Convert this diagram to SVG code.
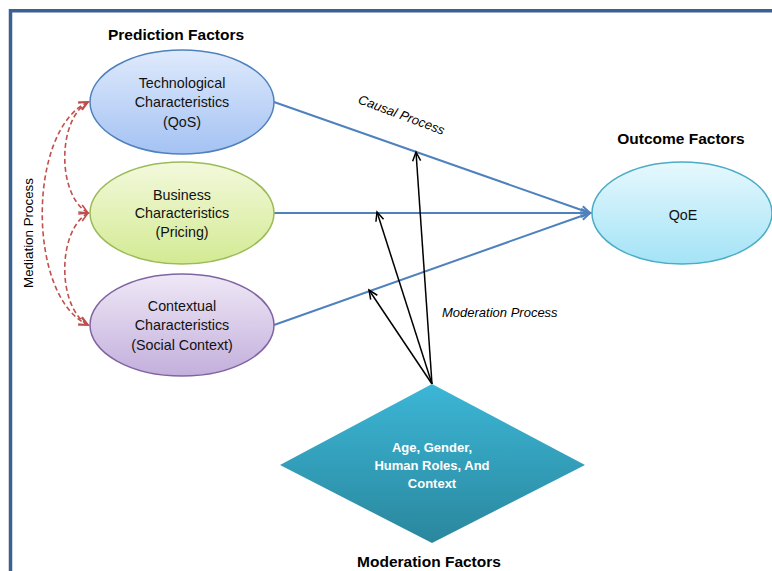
<svg xmlns="http://www.w3.org/2000/svg" width="772" height="571" viewBox="0 0 772 571">
<style>
.title{font-family:"Liberation Sans",Arial,sans-serif;font-weight:bold;font-size:15.5px;fill:#000;text-anchor:middle}
.node{font-family:"Liberation Sans",Arial,sans-serif;font-size:14.3px;fill:#111;text-anchor:middle}
.dia{font-family:"Liberation Sans",Arial,sans-serif;font-weight:bold;font-size:13px;fill:#fff;text-anchor:middle}
.lbl{font-family:"Liberation Sans",Arial,sans-serif;font-style:italic;font-size:13px;fill:#000}
.causal{stroke:#4f81bd;stroke-width:2;fill:none;marker-end:url(#blueArrow)}
.mod{stroke:#000;stroke-width:1.5;fill:none;marker-end:url(#blackArrow)}
.med{stroke:#c0504d;stroke-width:1.6;fill:none;stroke-dasharray:5 3;marker-start:url(#redArrow);marker-end:url(#redArrow)}
</style>
<defs>
<linearGradient id="gTech" x1="0" y1="0" x2="0" y2="1"><stop offset="0" stop-color="#dfeafc"/><stop offset="1" stop-color="#a4c2f3"/></linearGradient>
<linearGradient id="gBus" x1="0" y1="0" x2="0" y2="1"><stop offset="0" stop-color="#f3f9dc"/><stop offset="1" stop-color="#d3ea93"/></linearGradient>
<linearGradient id="gCtx" x1="0" y1="0" x2="0" y2="1"><stop offset="0" stop-color="#efe8f6"/><stop offset="1" stop-color="#c3afdc"/></linearGradient>
<linearGradient id="gQoe" x1="0" y1="0" x2="0" y2="1"><stop offset="0" stop-color="#e6f8fd"/><stop offset="1" stop-color="#a3e3f6"/></linearGradient>
<linearGradient id="gDia" x1="0" y1="0" x2="0" y2="1"><stop offset="0" stop-color="#3cb6d6"/><stop offset="1" stop-color="#2a879d"/></linearGradient>
<marker id="blueArrow" markerWidth="12" markerHeight="12" refX="10" refY="5" orient="auto" markerUnits="userSpaceOnUse"><path d="M1,1 L10,5 L1,9" fill="none" stroke="#4f81bd" stroke-width="2"/></marker>
<marker id="blackArrow" markerWidth="12" markerHeight="12" refX="10" refY="5" orient="auto" markerUnits="userSpaceOnUse"><path d="M1,1 L10,5 L1,9" fill="none" stroke="#000" stroke-width="1.5"/></marker>
<marker id="redArrow" markerWidth="12" markerHeight="12" refX="10" refY="5" orient="auto-start-reverse" markerUnits="userSpaceOnUse"><path d="M1,1 L10,5 L1,9" fill="none" stroke="#c0504d" stroke-width="1.6"/></marker>
</defs>
<rect width="772" height="571" fill="#fff"/>
<path d="M10.5,571 L10.5,10.8 L772,10.8" fill="none" stroke="#3b6193" stroke-width="3.5"/>

<g id="connectors">
<line class="causal" x1="274" y1="102" x2="590" y2="213"/>
<line class="causal" x1="274" y1="213" x2="590" y2="213"/>
<line class="causal" x1="274" y1="325" x2="590" y2="213"/>
<line class="mod" x1="432" y1="384" x2="416" y2="152"/>
<line class="mod" x1="432" y1="384" x2="377" y2="212"/>
<line class="mod" x1="432" y1="384" x2="369" y2="290"/>
<path class="med" d="M88,102 C27,130 27,297 88,325"/>
<path class="med" d="M88,102 C57,120 57,195 88,213"/>
<path class="med" d="M88,213 C57,231 57,307 88,325"/>
</g>

<g id="labels">
<text class="title" x="176" y="40">Prediction Factors</text>
<text class="title" x="681" y="144">Outcome Factors</text>
<text class="title" x="429" y="567">Moderation Factors</text>
<text class="lbl" transform="translate(400,119) rotate(20.5)" text-anchor="middle">Causal Process</text>
<text class="lbl" x="442" y="317">Moderation Process</text>
<text class="lbl" transform="translate(33,233) rotate(-90)" text-anchor="middle" style="font-style:normal" textLength="110" lengthAdjust="spacingAndGlyphs">Mediation  Process</text>
</g>

<g id="tech">
<ellipse cx="182" cy="102" rx="92" ry="52" fill="url(#gTech)" stroke="#4f81bd" stroke-width="1.5"/>
<text class="node" x="182" y="88">Technological</text>
<text class="node" x="182" y="107">Characteristics</text>
<text class="node" x="182" y="127">(QoS)</text>
</g>
<g id="business">
<ellipse cx="182" cy="213" rx="92" ry="51" fill="url(#gBus)" stroke="#9bbb59" stroke-width="1.5"/>
<text class="node" x="182" y="200">Business</text>
<text class="node" x="182" y="218">Characteristics</text>
<text class="node" x="182" y="237">(Pricing)</text>
</g>
<g id="contextual">
<ellipse cx="182" cy="325" rx="92" ry="51" fill="url(#gCtx)" stroke="#8064a2" stroke-width="1.5"/>
<text class="node" x="182" y="311">Contextual</text>
<text class="node" x="182" y="330">Characteristics</text>
<text class="node" x="182" y="350">(Social Context)</text>
</g>
<g id="qoe">
<ellipse cx="682" cy="213" rx="90" ry="51" fill="url(#gQoe)" stroke="#4bacc6" stroke-width="1.5"/>
<text class="node" x="683" y="220">QoE</text>
</g>
<g id="moderation">
<polygon points="432,384 585,465 432,543 280,465" fill="url(#gDia)"/>
<text class="dia" x="432" y="452">Age, Gender,</text>
<text class="dia" x="432" y="470">Human Roles, And</text>
<text class="dia" x="432" y="488">Context</text>
</g>
</svg>
